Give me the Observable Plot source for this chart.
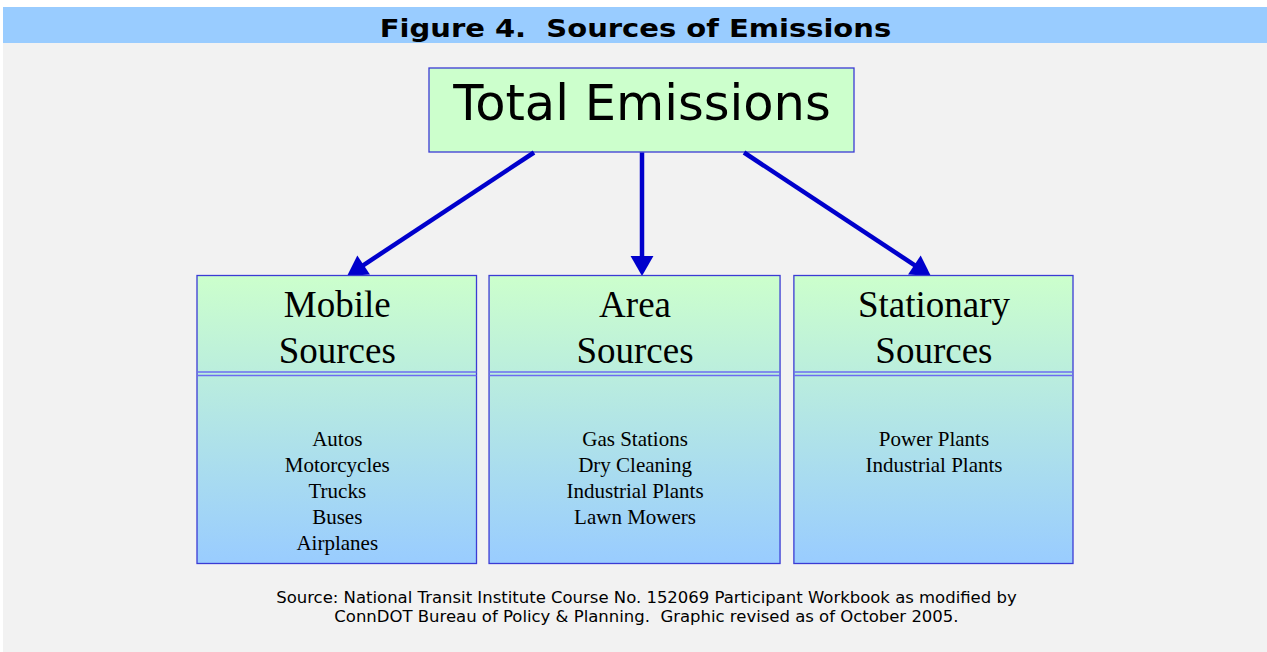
<!DOCTYPE html>
<html><head><meta charset="utf-8">
<script src="https://cdn.jsdelivr.net/npm/d3@7"></script>
<script src="https://cdn.jsdelivr.net/npm/@observablehq/plot@0.6"></script>
<style>
html,body{margin:0;padding:0;background:#fff;overflow:hidden;}
#wrap{position:absolute;left:3px;top:7px;width:1264px;height:645px;background:#f2f2f2;}
#title{height:36px;line-height:44px;overflow:hidden;background:#99ccff;text-align:center;color:#000;}
#title span{display:inline-block;white-space:pre;font-family:"DejaVu Sans";font-weight:bold;font-size:25px;transform:scaleX(1.16);transform-origin:50% 50%;}
#chart{position:absolute;left:0;top:36px;}
#caption{position:absolute;top:581px;left:11px;width:1264px;text-align:center;color:#000;}
#caption span{display:inline-block;white-space:pre;font-family:"DejaVu Sans";font-size:16px;line-height:19px;transform:scaleX(1.03);transform-origin:50% 50%;}
</style></head>
<body>
<div id="wrap"><div id="title"><span></span></div><div id="chart"></div><div id="caption"><span></span></div></div>
<script>
// ---- content ----
const title = "Figure 4.  Sources of Emissions";
const root = "Total Emissions";
const categories = ["Mobile\nSources", "Area\nSources", "Stationary\nSources"];
const mobileItems = ["Autos", "Motorcycles", "Trucks", "Buses", "Airplanes"];
const areaItems = ["Gas Stations", "Dry Cleaning", "Industrial Plants", "Lawn Mowers"];
const stationaryItems = ["Power Plants", "Industrial Plants"];
const captionLines = [
  "Source: National Transit Institute Course No. 152069 Participant Workbook as modified by",
  "ConnDOT Bureau of Policy & Planning.  Graphic revised as of October 2005."
];
const itemLists = [mobileItems, areaItems, stationaryItems];

document.querySelector("#title span").textContent = title;
document.querySelector("#caption span").textContent = captionLines.join("\n");

// ---- layout (page pixel units) ----
const band = d3.scaleBand().domain(categories).range([197, 1073]).paddingInner(0.045);
const edgeAdjust = [[0, -3.6], [-4.4, 3.5], [4, 0]];
const rootBox = {x1: 429, x2: 854, y1: 68, y2: 152};
const rootCx = (rootBox.x1 + rootBox.x2) / 2;
const boxTop = 275.5, boxBottom = 563.5, splitY = 371.5;

const boxes = categories.map((name, i) => {
  const x1 = band(name) + edgeAdjust[i][0], x2 = band(name) + band.bandwidth() + edgeAdjust[i][1];
  return {name, items: itemLists[i], x1, x2, cx: (x1 + x2) / 2};
});

const headLen = 20;
const arrows = boxes.map((b, i) => {
  const s = i - 1;
  const sx = rootCx + s * 105 - Math.abs(s) * 3, sy = rootBox.y2;
  const tx = rootCx + s * 292 - Math.abs(s) * 3, ty = boxTop;
  const dx = tx - sx, dy = ty - sy, len = Math.hypot(dx, dy);
  const ux = dx / len, uy = dy / len;
  const c = headLen * 2 / 3;
  return {sx, sy, tx, ty, hx: tx - ux * c, hy: ty - uy * c,
          ex: tx - ux * (headLen - 2), ey: ty - uy * (headLen - 2),
          rot: Math.atan2(dx, -dy) * 180 / Math.PI};
});

const blue = "#3b3bd4";
const defs = () => {
  const g = d3.create("svg:g");
  const lg = g.append("defs").append("linearGradient").attr("id", "boxGrad")
    .attr("x1", 0).attr("y1", 0).attr("x2", 0).attr("y2", 1);
  lg.append("stop").attr("offset", "0%").attr("stop-color", "#ccffcc");
  lg.append("stop").attr("offset", "100%").attr("stop-color", "#99ccff");
  return g.node();
};

const chart = Plot.plot({
  width: 1264, height: 532, margin: 0,
  x: {domain: [3, 1267], range: [0, 1264], axis: null},
  y: {domain: [43, 575], range: [0, 532], axis: null},
  style: {background: "transparent", overflow: "visible"},
  marks: [
    defs,
    Plot.rect([root], {x1: () => rootBox.x1, x2: () => rootBox.x2, y1: () => rootBox.y1, y2: () => rootBox.y2,
      fill: "#ccffcc", stroke: blue, strokeWidth: 1.3}),
    Plot.text([root], {x: () => rootCx, y: () => 104, text: d => d,
      fontFamily: "DejaVu Sans", fontSize: 49.5, fill: "#000"}),
    Plot.link(arrows, {x1: "sx", y1: "sy", x2: "ex", y2: "ey", stroke: "#0000cc", strokeWidth: 4.5}),
    Plot.dot(arrows, {x: "hx", y: "hy", rotate: "rot", symbol: "triangle", r: 8.5, fill: "#0000cc", stroke: "none"}),
    Plot.rect(boxes, {x1: "x1", x2: "x2", y1: () => boxTop, y2: () => boxBottom,
      fill: "url(#boxGrad)", stroke: blue, strokeWidth: 1.3}),
    Plot.ruleY(boxes, {y: () => splitY, x1: "x1", x2: "x2", stroke: "#6c6cf0", strokeWidth: 1.3}),
    Plot.ruleY(boxes, {y: () => splitY + 3.5, x1: "x1", x2: "x2", stroke: "#6c6cf0", strokeWidth: 1.3}),
    Plot.text(boxes, {x: "cx", y: () => 325, text: "name", lineHeight: 46 / 37,
      fontFamily: "Liberation Serif", fontSize: 37, fill: "#000"}),
    Plot.text(boxes, {x: "cx", y: () => 427, text: d => d.items.join("\n"), lineAnchor: "top",
      lineHeight: 26 / 21, fontFamily: "Liberation Serif", fontSize: 21, fill: "#000"})
  ]
});
document.getElementById("chart").appendChild(chart);
</script>
</body></html>
